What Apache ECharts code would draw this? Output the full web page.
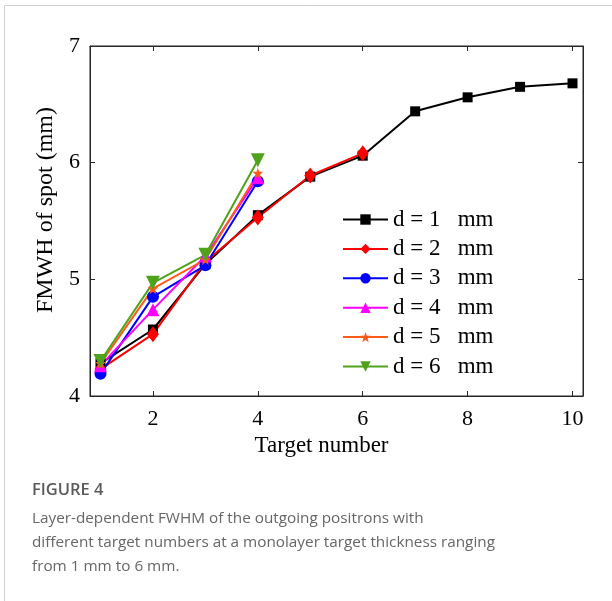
<!DOCTYPE html>
<html>
<head>
<meta charset="utf-8">
<script src="https://cdn.jsdelivr.net/npm/echarts@6/dist/echarts.min.js"></script>
<style>
  html, body { margin: 0; padding: 0; background: #fff; }
  #chart { width: 612px; height: 601px; }
</style>
</head>
<body>
<div id="chart"></div>
<script>
  // target numbers
  const targets = [1, 2, 3, 4, 5, 6, 7, 8, 9, 10]
  const xTicks = [2, 4, 6, 8, 10]

  // FWHM (mm) per monolayer thickness
  const d1 = [4.28, 4.57, 5.13, 5.55, 5.88, 6.06, 6.44, 6.56, 6.65, 6.68]
  const d2 = [4.23, 4.53, 5.15, 5.53, 5.89, 6.08]
  const d3 = [4.19, 4.85, 5.12, 5.84]
  const d4 = [4.26, 4.74, 5.20, 5.87]
  const d5 = [4.28, 4.92, 5.17, 5.91]
  const d6 = [4.30, 4.97, 5.21, 6.02]

  const names = [1, 2, 3, 4, 5, 6].map(d => 'd = ' + d + '\u2002 mm')

  const serif = 'Liberation Serif'
  const axisColor = '#262626'

  function pairs(vals) {
    return vals.map((v, i) => [targets[i], v])
  }

  function makeSeries(name, vals, color, symbol, size) {
    return {
      name: name,
      type: 'line',
      data: pairs(vals),
      symbol: symbol,
      symbolSize: size,
      lineStyle: { color: color, width: 2 },
      itemStyle: { color: color },
      emphasis: { disabled: true },
      animation: false
    }
  }

  const chart = echarts.init(document.getElementById('chart'))

  chart.setOption({
    backgroundColor: '#fff',
    animation: false,
    grid: {
      left: 90,
      top: 46,
      right: 29,
      bottom: 205,
      show: true,
      borderColor: axisColor,
      borderWidth: 1
    },
    legend: {
      orient: 'vertical',
      left: 337,
      top: 203,
      itemWidth: 45,
      itemHeight: 13,
      itemGap: 6.4,
      data: names,
      textStyle: { fontFamily: serif, fontSize: 23, lineHeight: 23, color: '#000' }
    },
    xAxis: [{
      type: 'value',
      min: 0.8,
      max: 10.2,
      name: 'Target number',
      nameLocation: 'middle',
      nameGap: 29,
      nameTextStyle: { fontFamily: serif, fontSize: 23, color: '#000', padding: [0, 30, 0, 0] },
      axisLine: { show: true, lineStyle: { color: axisColor } },
      axisTick: { inside: true, length: 5, customValues: xTicks, lineStyle: { color: axisColor } },
      axisLabel: { customValues: xTicks, fontFamily: serif, fontSize: 22, color: '#000', margin: 12 },
      splitLine: { show: false }
    }, {
      type: 'value',
      position: 'top',
      min: 0.8,
      max: 10.2,
      axisLine: { show: true, lineStyle: { color: axisColor } },
      axisTick: { inside: true, length: 5, customValues: xTicks, lineStyle: { color: axisColor } },
      axisLabel: { show: false },
      splitLine: { show: false }
    }],
    yAxis: [{
      type: 'value',
      min: 4,
      max: 7,
      interval: 1,
      name: 'FMWH of spot (mm)',
      nameLocation: 'middle',
      nameGap: 26,
      nameTextStyle: { fontFamily: serif, fontSize: 24, color: '#000', padding: [0, 0, 0, 22] },
      axisLine: { show: true, lineStyle: { color: axisColor } },
      axisTick: { inside: true, length: 5, lineStyle: { color: axisColor } },
      axisLabel: { fontFamily: serif, fontSize: 22, color: '#000', margin: 10 },
      splitLine: { show: false }
    }, {
      type: 'value',
      position: 'right',
      min: 4,
      max: 7,
      interval: 1,
      axisLine: { show: true, lineStyle: { color: axisColor } },
      axisTick: { inside: true, length: 5, lineStyle: { color: axisColor } },
      axisLabel: { show: false },
      splitLine: { show: false }
    }],
    series: [
      makeSeries(names[0], d1, '#000000', 'rect', 10),
      makeSeries(names[1], d2, '#ff0000', 'diamond', [12, 16]),
      makeSeries(names[2], d3, '#0000ff', 'circle', 12),
      makeSeries(names[3], d4, '#ff00ff', 'triangle', 13),
      makeSeries(names[4], d5, '#ff5a1a', 'path://M0,-10 L2.35,-3.1 9.5,-3.1 3.8,1.2 5.9,8.1 0,4 -5.9,8.1 -3.8,1.2 -9.5,-3.1 -2.35,-3.1 Z', 11),
      makeSeries(names[5], d6, '#4fa31c', 'path://M0,10 L-10,-7 10,-7 Z', 14)
    ],
    graphic: [
      {
        type: 'rect',
        shape: { x: 4.5, y: 5.5, width: 640, height: 640 },
        style: { fill: 'none', stroke: '#d0d0d0', lineWidth: 1 },
        silent: true,
        z: -10
      },
      {
        type: 'text',
        left: 32,
        top: 482,
        style: { text: 'FIGURE 4', fontFamily: 'Open Sans', fontSize: 16.5, fontWeight: 600, fill: '#5a5a5a' }
      },
      {
        type: 'text',
        left: 32,
        top: 507,
        style: {
          text: 'Layer-dependent FWHM of the outgoing positrons with\ndifferent target numbers at a monolayer target thickness ranging\nfrom 1 mm to 6 mm.',
          fontFamily: 'Open Sans',
          fontSize: 15.3,
          lineHeight: 24,
          fill: '#666666'
        }
      }
    ]
  })
</script>
</body>
</html>
